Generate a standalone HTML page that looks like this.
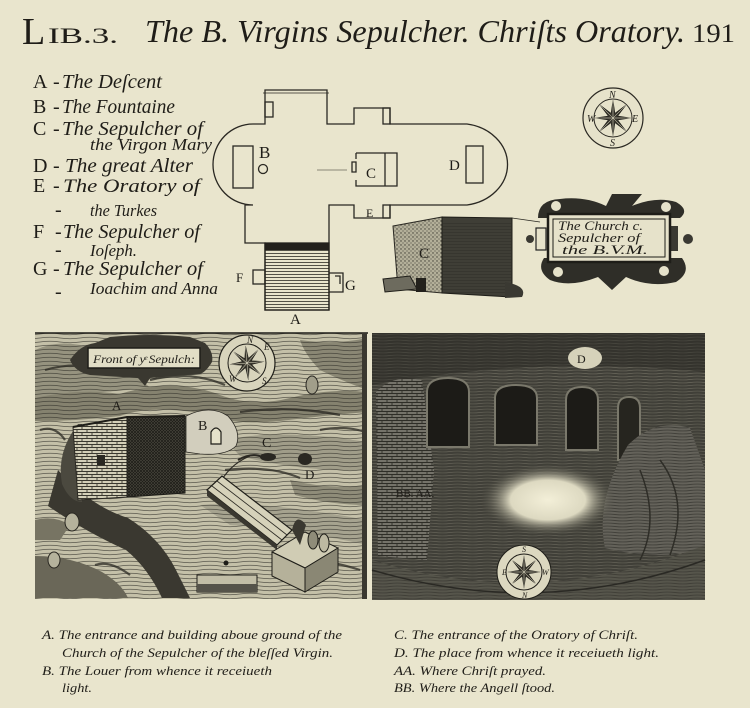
<!DOCTYPE html>
<html><head><meta charset="utf-8"><style>
html,body{margin:0;padding:0;background:#e9e5cd;}
svg{display:block}
.it{font-family:"Liberation Serif",serif;font-style:italic;fill:#1f1d18}
.rm{font-family:"Liberation Serif",serif;fill:#1f1d18}
</style></head><body>
<svg width="750" height="708" viewBox="0 0 750 708" xmlns="http://www.w3.org/2000/svg">
<defs>
 <pattern id="wave" width="40" height="4" patternUnits="userSpaceOnUse"><path d="M0 2 Q10 0.6 20 2 T40 2" fill="none" stroke="#2b2a24" stroke-width="0.75"/></pattern>
 <pattern id="hh" width="6" height="3" patternUnits="userSpaceOnUse"><path d="M0 1.5H6" stroke="#2b2a24" stroke-width="0.8"/></pattern>
 <pattern id="lt" width="30" height="3" patternUnits="userSpaceOnUse"><path d="M0 1.5 Q7 0.6 15 1.5 T30 1.5" fill="none" stroke="#6e6c60" stroke-width="0.7"/></pattern>
 <pattern id="dk" width="30" height="3" patternUnits="userSpaceOnUse"><path d="M0 1.5 Q7 0.6 15 1.5 T30 1.5" fill="none" stroke="#2a2924" stroke-width="0.9"/></pattern>
 <pattern id="brick" width="10" height="6" patternUnits="userSpaceOnUse"><rect width="10" height="6" fill="#d3cfb8"/><path d="M0 .5H10M0 3.5H10M2 .5V3.5M7 3.5V6.5" stroke="#3a382f" stroke-width="0.9"/></pattern>
 <pattern id="brick2" width="10" height="6" patternUnits="userSpaceOnUse"><rect width="10" height="6" fill="#75736a"/><path d="M0 .5H10M0 3.5H10M2 .5V3.5M7 3.5V6.5" stroke="#2e2d27" stroke-width="0.9"/></pattern>
 <pattern id="xh" width="3" height="3" patternUnits="userSpaceOnUse"><rect width="3" height="3" fill="#4e4c42"/><path d="M0 0L3 3M3 0L0 3" stroke="#1e1d18" stroke-width="0.8"/></pattern>
 <pattern id="stip" width="4" height="4" patternUnits="userSpaceOnUse"><rect width="4" height="4" fill="#b3af99"/><circle cx="1" cy="1" r="0.7" fill="#3d3b33"/><circle cx="3" cy="3" r="0.6" fill="#55534a"/></pattern>
 <radialGradient id="glow"><stop offset="0" stop-color="#f3efd8"/><stop offset="0.55" stop-color="#ddd9c1"/><stop offset="1" stop-color="#4a493f" stop-opacity="0"/></radialGradient>
 <g id="star"><path d="M0,-18 L1.91,-4.62 L12.73,-12.73 L4.62,-1.91 L18,0 L4.62,1.91 L12.73,12.73 L1.91,4.62 L0,18 L-1.91,4.62 L-12.73,12.73 L-4.62,1.91 L-18,0 L-4.62,-1.91 L-12.73,-12.73 L-1.91,-4.62 Z" fill="#3a382f" stroke="#1e1d18" stroke-width="0.6"/><path d="M0,-18V18M-18,0H18M-12.7,-12.7L12.7,12.7M12.7,-12.7L-12.7,12.7" stroke="#e6e2ca" stroke-width="0.5"/></g>
</defs>

<rect width="750" height="708" fill="#e9e5cd"/>

<!-- Header -->
<text x="22" y="44" class="rm" font-size="38">L</text>
<text x="48" y="43" class="rm" font-size="22" textLength="70" lengthAdjust="spacingAndGlyphs">IB.3.</text>
<text x="145" y="42" class="it" font-size="32" textLength="540" lengthAdjust="spacingAndGlyphs">The B. Virgins Sepulcher. Chriſts Oratory.</text>
<text x="692" y="42" class="rm" font-size="26" textLength="43" lengthAdjust="spacingAndGlyphs">191</text>

<!-- Legend -->
<g font-size="20">
<text x="33" y="88" class="rm">A</text><text x="53" y="88" class="it">-</text><text x="62" y="88" class="it" textLength="100" lengthAdjust="spacingAndGlyphs">The Deſcent</text>
<text x="33" y="113" class="rm">B</text><text x="53" y="113" class="it">-</text><text x="62" y="113" class="it" textLength="113" lengthAdjust="spacingAndGlyphs">The Fountaine</text>
<text x="33" y="135" class="rm">C</text><text x="53" y="135" class="it">-</text><text x="62" y="135" class="it" textLength="141" lengthAdjust="spacingAndGlyphs">The Sepulcher of</text>
<text x="90" y="150" class="it" font-size="17" textLength="122" lengthAdjust="spacingAndGlyphs">the Virgon Mary</text>
<text x="33" y="172" class="rm">D</text><text x="53" y="172" class="it">-</text><text x="65" y="172" class="it" textLength="128" lengthAdjust="spacingAndGlyphs">The great Alter</text>
<text x="33" y="192" class="rm">E</text><text x="53" y="192" class="it">-</text><text x="63" y="192" class="it" font-size="19" textLength="137" lengthAdjust="spacingAndGlyphs">The Oratory of</text>
<text x="90" y="216" class="it" font-size="17" textLength="67" lengthAdjust="spacingAndGlyphs">the Turkes</text>
<text x="55" y="216" class="it">-</text>
<text x="33" y="238" class="rm">F</text><text x="55" y="238" class="it">-</text><text x="63" y="238" class="it" textLength="137" lengthAdjust="spacingAndGlyphs">The Sepulcher of</text>
<text x="90" y="256" class="it" font-size="17" textLength="47" lengthAdjust="spacingAndGlyphs">Ioſeph.</text>
<text x="55" y="256" class="it">-</text>
<text x="33" y="275" class="rm">G</text><text x="53" y="275" class="it">-</text><text x="63" y="275" class="it" textLength="140" lengthAdjust="spacingAndGlyphs">The Sepulcher of</text>
<text x="90" y="294" class="it" font-size="17" textLength="128" lengthAdjust="spacingAndGlyphs">Ioachim and Anna</text>
<text x="55" y="298" class="it">-</text>
</g>

<!-- Plan -->
<g fill="none" stroke="#2a2822" stroke-width="1.3">
 <path d="M253,124 L265,124 L265,90 L327,90 L327,124 L354,124 L354,108 L390,108 L390,124 L467,124 A48,41 0 0 1 467,205 L390,205 L390,218 L354,218 L354,205 L329,205 L329,310 L265,310 L265,243 L245,243 L245,205 L253,205 A40,40.5 0 0 1 253,124 Z"/>
 <path d="M263,93 L329,93" stroke-width="0.8"/>
 <rect x="265" y="102" width="8" height="15"/>
 <rect x="383" y="108" width="7" height="16"/>
 <rect x="383" y="205" width="7" height="13"/>
 <rect x="233" y="146" width="20" height="42"/>
 <circle cx="263" cy="169" r="4.5"/>
 <path d="M356,153 L397,153 L397,186 L356,186 L356,180 M356,159 L356,153 M385,153 L385,186 M352,162 L356,162 L356,172 L352,172 Z"/>
 <rect x="466" y="146" width="17" height="37"/>
 <rect x="253" y="270" width="12" height="14"/>
 <path d="M329,273 L343,273 L343,292 L329,292 M335,276 L340,276 L340,284"/>
 <path d="M317,170 L347,170" stroke-width="0.5"/>
</g>
<rect x="265" y="243" width="64" height="7" fill="#23211c"/>
<rect x="265" y="250" width="64" height="60" fill="url(#hh)"/>
<rect x="265" y="243" width="64" height="67" fill="none" stroke="#23211c" stroke-width="1.3"/>
<g class="rm" font-size="15">
 <text x="259" y="158" font-size="17">B</text>
 <text x="366" y="178">C</text>
 <text x="449" y="170">D</text>
 <text x="366" y="217" font-size="12">E</text>
 <text x="236" y="282" font-size="13">F</text>
 <text x="345" y="290" font-size="15">G</text>
 <text x="290" y="324" font-size="15">A</text>
</g>

<!-- 3D box C -->
<polygon points="393,226 442,217 442,293 398,289" fill="url(#stip)" stroke="#2a2822" stroke-width="1"/>
<polygon points="442,217 512,218 512,297 442,293" fill="#3f3e36" stroke="#1e1d18" stroke-width="1"/>
<rect x="442" y="222" width="70" height="72" fill="url(#hh)" opacity="0.5"/>
<polygon points="383,279 410,276 417,289 385,292" fill="#6d6b5e" stroke="#1e1d18"/>
<rect x="416" y="278" width="10" height="14" fill="#23211c"/>
<path d="M505,282 Q528,286 522,297 L505,298 Z" fill="#3a3932"/>
<text x="419" y="258" class="rm" font-size="15">C</text>
<path d="M512,218 L540,222" stroke="#2a2822" stroke-width="0.7"/>

<!-- Compass top -->
<circle cx="613" cy="118" r="30" fill="#e6e2ca" stroke="#2a2822" stroke-width="1.2"/>
<circle cx="613" cy="118" r="19" fill="none" stroke="#2a2822" stroke-width="1"/>
<use href="#star" transform="translate(613,118)"/>
<g class="it" font-size="10"><text x="609" y="98">N</text><text x="610" y="146">S</text><text x="632" y="122">E</text><text x="587" y="122">W</text></g>

<!-- Cartouche top right -->
<path d="M538,218 Q538,200 560,199 Q585,196 606,206 L612,194 L642,194 L632,206 Q656,196 676,202 Q690,210 680,218 Z" fill="#2f2e28"/>
<path d="M544,258 L682,258 Q692,272 676,282 Q650,288 626,277 L612,290 L598,277 Q570,288 550,280 Q536,270 544,258 Z" fill="#2f2e28"/>
<circle cx="556" cy="206" r="5" fill="#e6e2ca"/><circle cx="666" cy="207" r="5" fill="#e6e2ca"/>
<circle cx="558" cy="272" r="5" fill="#e6e2ca"/><circle cx="664" cy="271" r="5" fill="#e6e2ca"/>
<rect x="536" y="228" width="10" height="22" fill="#e6e2ca" stroke="#222" stroke-width="1.2"/>
<circle cx="530" cy="239" r="4" fill="#3a3932"/>
<rect x="668" y="226" width="10" height="25" fill="#3a3932"/>
<circle cx="688" cy="239" r="5" fill="#3a3932"/>
<rect x="548" y="214" width="122" height="48" fill="#e6e2ca" stroke="#1e1d18" stroke-width="2.5"/>
<rect x="553" y="219" width="112" height="38" fill="none" stroke="#1e1d18" stroke-width="1"/>
<g class="it" font-size="13">
<text x="558" y="230" textLength="85" lengthAdjust="spacingAndGlyphs">The Church c.</text>
<text x="558" y="242" textLength="82" lengthAdjust="spacingAndGlyphs">Sepulcher of</text>
<text x="562" y="254" textLength="86" lengthAdjust="spacingAndGlyphs">the B.V.M.</text>
</g>

<!-- LEFT PANEL -->
<rect x="35" y="333" width="332" height="266" fill="#c4c0a8"/>
<path d="M35,350 Q60,338 92,348 Q125,362 150,388 L35,398 Z" fill="#96937f"/>
<path d="M35,398 Q80,388 120,394 Q170,378 215,393 Q250,408 290,398 Q330,388 367,392 L367,412 Q320,416 280,421 Q230,426 200,413 Q150,405 120,416 Q80,421 35,421 Z" fill="#85826f"/>
<path d="M300,340 Q335,345 367,338 L367,390 Q340,380 320,370 Q305,355 300,340 Z" fill="#8a8774"/>
<path d="M225,440 Q280,428 367,442 L367,470 Q300,472 240,456 Z" fill="#a09d89"/>
<path d="M200,505 Q260,500 367,520 L367,545 Q300,530 230,525 Z" fill="#a6a38f"/>
<path d="M290,480 Q330,490 367,485 L367,505 Q330,505 295,495 Z" fill="#8f8c79"/>
<rect x="35" y="333" width="332" height="266" fill="url(#wave)" opacity="0.7"/>
<g fill="none" stroke="#2a2822" stroke-width="2.2" opacity="0.75">
 <path d="M45,370 Q80,360 110,372"/>
 <path d="M150,380 Q190,370 225,385"/>
 <path d="M240,412 Q290,405 340,415"/>
 <path d="M225,470 Q270,465 300,478"/>
 <path d="M320,430 Q345,425 365,432"/>
 <path d="M40,430 Q55,425 65,440"/>
 <path d="M300,560 Q330,560 360,570"/>
 <path d="M130,575 Q110,560 95,565"/>
</g>
<path d="M58,470 Q90,506 128,518 Q160,538 176,570 L190,598 L162,598 Q148,568 126,550 Q86,532 48,506 Z" fill="#3a3830"/>
<path d="M35,556 Q72,556 102,572 Q122,584 128,598 L35,598 Z" fill="#6a6758"/>
<path d="M35,520 Q55,515 70,525 L60,540 L35,540 Z" fill="#777463"/>
<path d="M78,424 Q56,452 62,484 Q70,502 82,502 L82,424 Z" fill="#4b493f"/>
<!-- building -->
<polygon points="73,427 127,417 127,497 78,500" fill="url(#brick)" stroke="#2a2822"/>
<polygon points="127,417 185,416 185,493 127,497" fill="url(#xh)" stroke="#1e1d18"/>
<path d="M73,427 L127,417 L185,416" fill="none" stroke="#1e1d18" stroke-width="2"/>
<rect x="97" y="455" width="8" height="10" fill="#2a2822"/>
<text x="112" y="410" class="rm" font-size="13">A</text>
<!-- B knoll -->
<path d="M186,416 Q210,404 228,416 Q242,432 236,446 Q226,456 200,454 L186,452 Z" fill="#d2cebd" stroke="#2a2822" stroke-width="0.8"/>
<path d="M211,444 L211,432 Q216,424 221,432 L221,444 Z" fill="#e6e2ca" stroke="#1e1d18" stroke-width="1.2"/>
<text x="198" y="430" class="rm" font-size="14">B</text>
<!-- holes -->
<ellipse cx="268" cy="457" rx="8" ry="4" fill="#2a2822"/>
<path d="M238,460 Q252,452 262,457" fill="none" stroke="#2a2822" stroke-width="2"/>
<ellipse cx="305" cy="459" rx="7" ry="6" fill="#2a2822"/>
<text x="262" y="447" class="rm" font-size="14">C</text>
<text x="305" y="479" class="rm" font-size="13">D</text>
<path d="M218,487 Q228,465 250,456" fill="none" stroke="#2a2822" stroke-width="1.2"/>
<!-- stairs -->
<polygon points="207,490 222,476 292,530 277,545" fill="#d6d2ba" stroke="#1e1d18" stroke-width="1.2"/>
<path d="M212,486 L282,540 M217,481 L287,535" stroke="#2a2822" stroke-width="0.8"/>
<polygon points="207,490 277,545 277,550 207,496" fill="#3a3830"/>
<!-- box -->
<polygon points="272,552 305,532 338,548 305,568" fill="#d0ccb4" stroke="#1e1d18"/>
<polygon points="272,552 305,568 305,592 272,576" fill="#b5b19a" stroke="#1e1d18"/>
<polygon points="305,568 338,548 338,572 305,592" fill="#8a8774" stroke="#1e1d18"/>
<path d="M292,530 Q296,512 306,525 L300,545 Z" fill="#3a3830"/>
<ellipse cx="313" cy="540" rx="5" ry="9" fill="#8f8c79" stroke="#1e1d18"/>
<ellipse cx="324" cy="543" rx="5" ry="9" fill="#bdb9a2" stroke="#1e1d18"/>
<!-- slab -->
<rect x="197" y="575" width="60" height="17" fill="#c2bea7" stroke="#1e1d18"/>
<rect x="197" y="584" width="60" height="8" fill="#55534a"/>
<!-- trees -->
<ellipse cx="312" cy="385" rx="6" ry="9" fill="#a19e8a" stroke="#2a2822"/>
<ellipse cx="72" cy="522" rx="7" ry="9" fill="#b5b29c" stroke="#2a2822"/>
<ellipse cx="54" cy="560" rx="6" ry="8" fill="#b5b29c" stroke="#2a2822"/>
<circle cx="226" cy="563" r="2.5" fill="#1e1d18"/>
<!-- left cartouche -->
<path d="M70,360 Q80,345 95,343 L110,337 Q150,333 190,337 L205,343 Q214,352 212,362 Q206,372 200,374 L150,378 L145,386 L138,378 L90,375 Q75,372 70,360 Z" fill="#3a3830"/>
<rect x="88" y="348" width="112" height="20" fill="#e2dec6" stroke="#1e1d18" stroke-width="1.5"/>
<text x="93" y="363" class="it" font-size="12" textLength="102" lengthAdjust="spacingAndGlyphs">Front of yͤ Sepulch:</text>
<!-- compass left -->
<circle cx="247" cy="363" r="28" fill="#d8d4bc" stroke="#1e1d18" stroke-width="1.2"/>
<circle cx="247" cy="363" r="19" fill="none" stroke="#1e1d18"/>
<use href="#star" transform="translate(247,363) rotate(40) scale(0.95)"/>
<g class="it" font-size="9"><text x="247" y="343">N</text><text x="264" y="350">E</text><text x="262" y="384">S</text><text x="229" y="382">W</text></g>
<path d="M35,333 L368,333" stroke="#1e1d18" stroke-width="1.5"/>
<rect x="362" y="333" width="5" height="266" fill="#3a3830"/>

<!-- RIGHT PANEL -->
<rect x="372" y="333" width="333" height="267" fill="#403f38"/>
<rect x="372" y="333" width="333" height="267" fill="url(#lt)" opacity="0.8"/>
<path d="M372,333 L705,333 L705,372 Q540,355 372,385 Z" fill="#34332d"/>
<rect x="372" y="333" width="333" height="52" fill="url(#lt)" opacity="0.4"/>
<path d="M376,392 Q392,374 422,380 L434,470 L427,560 L378,556 Z" fill="url(#brick2)"/>
<path d="M427,447 L427,392 Q427,378 448,378 Q469,378 469,392 L469,447 Z" fill="#1c1b17" stroke="#7a786b" stroke-width="2"/>
<path d="M495,445 L495,398 Q495,385 516,385 Q537,385 537,398 L537,445 Z" fill="#1c1b17" stroke="#7a786b" stroke-width="2"/>
<path d="M566,450 L566,400 Q566,387 582,387 Q598,387 598,400 L598,450 Z" fill="#1c1b17" stroke="#7a786b" stroke-width="2"/>
<path d="M618,460 L618,408 Q618,397 629,397 Q640,397 640,408 L640,460 Z" fill="#26251f" stroke="#7a786b" stroke-width="2"/>
<path d="M628,445 Q655,418 690,428 L705,470 L705,548 Q660,562 605,548 Q595,500 628,445 Z" fill="#64625a"/>
<path d="M628,445 Q655,418 690,428 L705,470 L705,548 Q660,562 605,548 Q595,500 628,445 Z" fill="url(#dk)" opacity="0.6"/>
<path d="M640,470 Q660,520 640,560 M660,460 Q690,500 670,555" fill="none" stroke="#2e2d27" stroke-width="1.5"/>
<path d="M372,560 Q540,612 705,545 L705,600 L372,600 Z" fill="#56554b"/>
<path d="M372,560 Q540,612 705,545 L705,600 L372,600 Z" fill="url(#dk)" opacity="0.5"/>
<path d="M372,570 Q540,620 705,560" fill="none" stroke="#2a2924" stroke-width="1.5"/>
<ellipse cx="548" cy="500" rx="68" ry="36" fill="url(#glow)"/>
<ellipse cx="585" cy="358" rx="17" ry="11" fill="#d6d2ba"/>
<text x="577" y="363" class="rm" font-size="12">D</text>
<text x="396" y="497" class="rm" font-size="11" fill="#141410">BB. AA.</text>
<circle cx="524" cy="572" r="27" fill="#dcd8c0" stroke="#1e1d18"/>
<circle cx="524" cy="572" r="18" fill="none" stroke="#1e1d18"/>
<use href="#star" transform="translate(524,572) scale(0.9)"/>
<g class="it" font-size="8"><text x="522" y="552">S</text><text x="522" y="598">N</text><text x="542" y="575">W</text><text x="502" y="575">E</text></g>

<!-- Captions -->
<g class="it" font-size="13">
<text x="42" y="639" textLength="300" lengthAdjust="spacingAndGlyphs">A. The entrance and building aboue ground of the</text>
<text x="62" y="657" textLength="271" lengthAdjust="spacingAndGlyphs">Church  of the Sepulcher  of  the bleſſed Virgin.</text>
<text x="42" y="675" textLength="230" lengthAdjust="spacingAndGlyphs">B. The Louer from whence it receiueth</text>
<text x="62" y="692" textLength="30" lengthAdjust="spacingAndGlyphs">light.</text>
<text x="394" y="639" textLength="244" lengthAdjust="spacingAndGlyphs">C.  The entrance of the Oratory of Chriſt.</text>
<text x="394" y="657" textLength="265" lengthAdjust="spacingAndGlyphs">D. The place from whence it receiueth  light.</text>
<text x="394" y="675" textLength="152" lengthAdjust="spacingAndGlyphs">AA. Where Chriſt prayed.</text>
<text x="394" y="692" textLength="161" lengthAdjust="spacingAndGlyphs">BB. Where the Angell ſtood.</text>
</g>
</svg>
</body></html>
